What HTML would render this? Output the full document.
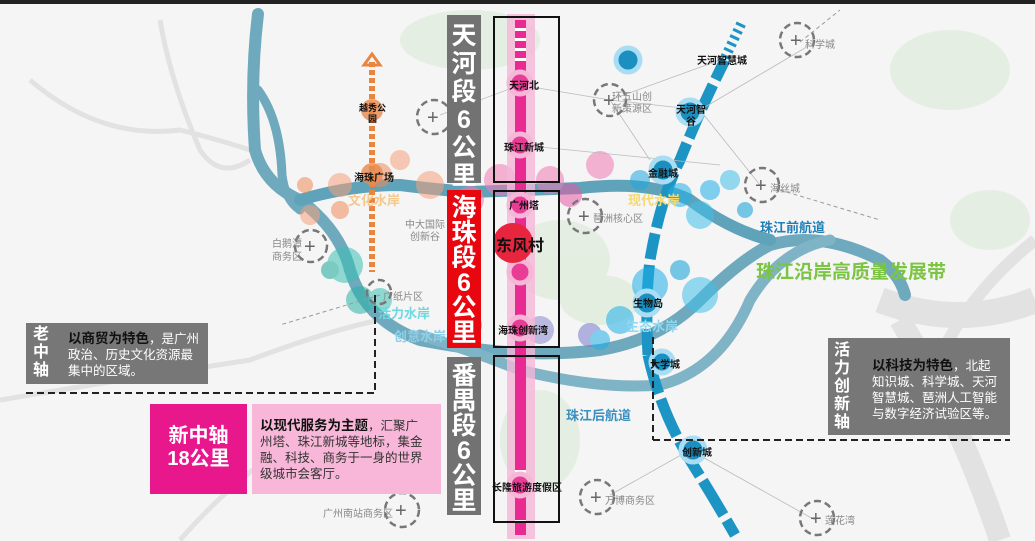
<!DOCTYPE html>
<html><head><meta charset="utf-8"><style>
html,body{margin:0;padding:0}
body{width:1035px;height:541px;overflow:hidden;background:#f4f4f4;font-family:"Liberation Sans","Noto Sans CJK SC",sans-serif;position:relative}
.t{position:absolute;font-family:"Liberation Sans","Noto Sans CJK SC",sans-serif;white-space:nowrap}
</style></head><body>
<svg width="1035" height="541" style="position:absolute;left:0;top:0" xmlns="http://www.w3.org/2000/svg">
<rect width="1035" height="541" fill="#f5f5f5"/>
<rect width="1035" height="4" fill="#222"/>
<g fill="#d8ead5" opacity="0.6">
<ellipse cx="470" cy="40" rx="70" ry="30"/><ellipse cx="560" cy="260" rx="50" ry="40"/>
<ellipse cx="950" cy="70" rx="60" ry="40"/><ellipse cx="990" cy="220" rx="40" ry="30"/>
<ellipse cx="540" cy="440" rx="40" ry="50"/><ellipse cx="600" cy="300" rx="40" ry="25"/>
</g>
<g fill="none" stroke="#e2e2e2" stroke-width="5">
<path d="M30 80 Q100 140 180 130 Q220 140 250 150"/>
<path d="M160 20 Q170 80 200 150 Q220 180 250 160"/>
<path d="M0 400 Q120 380 250 360 Q330 330 380 320"/>
<path d="M180 540 Q250 460 330 420"/>
<path d="M880 300 Q960 330 1035 300" stroke-width="26"/>
<path d="M900 320 Q960 420 1000 540" stroke-width="22"/>
<path d="M1035 240 Q960 300 930 380" stroke-width="12"/>
</g>
<g fill="none" stroke="#6fa9bd" stroke-linecap="round">
<path d="M258 14 Q250 80 255 150 Q265 185 300 200 Q340 230 350 270 Q365 320 420 340 Q520 360 600 350 Q660 340 700 300 Q740 260 770 245 Q820 230 880 260 Q900 275 905 295" stroke-width="12"/>
<path d="M258 90 Q280 120 282 175 Q285 200 300 210" stroke-width="9"/>
<path d="M300 200 Q350 185 400 185 Q440 190 470 192 Q520 190 580 188 Q650 180 690 200 Q730 230 770 240" stroke-width="12" stroke="#5fa3ba"/>
<path d="M420 335 Q470 350 520 370 Q600 390 660 385 Q720 370 750 300 Q780 250 830 240" stroke-width="11" stroke="#7fb3c6"/>
</g>
<path d="M648 355 Q645 300 650 260 Q660 200 680 160 Q700 110 725 60" fill="none" stroke="#1c94c4" stroke-width="11" stroke-dasharray="26,6"/>
<path d="M725 58 L742 22" fill="none" stroke="#1c94c4" stroke-width="10" stroke-dasharray="3,4"/>
<path d="M648 355 Q660 410 690 460 Q715 500 735 535" fill="none" stroke="#1c94c4" stroke-width="11" stroke-dasharray="40,6"/>
<g opacity="0.55">
<circle cx="380" cy="175" r="12" fill="#f08a5a"/><circle cx="400" cy="160" r="10" fill="#f5a07a"/>
<circle cx="340" cy="185" r="12" fill="#f5a07a"/><circle cx="305" cy="185" r="8" fill="#f08a5a"/>
<circle cx="310" cy="215" r="10" fill="#f5a07a"/><circle cx="430" cy="185" r="14" fill="#f5a07a"/>
<circle cx="340" cy="210" r="9" fill="#f08a5a"/>
<circle cx="345" cy="265" r="18" fill="#3cc1b4"/><circle cx="360" cy="300" r="14" fill="#2bb3a6"/>
<circle cx="380" cy="300" r="12" fill="#3cc1b4"/><circle cx="330" cy="270" r="9" fill="#1aa99c"/>
<circle cx="500" cy="180" r="16" fill="#f07ab5"/><circle cx="470" cy="200" r="14" fill="#f07ab5"/>
<circle cx="600" cy="165" r="14" fill="#f07ab5"/><circle cx="570" cy="195" r="12" fill="#e65aa5"/>
<circle cx="550" cy="180" r="14" fill="#f07ab5"/><circle cx="540" cy="330" r="14" fill="#8a8ad0"/>
<circle cx="590" cy="335" r="12" fill="#7a7ad0"/><circle cx="470" cy="325" r="12" fill="#8a8ad0"/>
<circle cx="640" cy="180" r="10" fill="#20a8e0"/><circle cx="680" cy="195" r="12" fill="#20b0e8"/>
<circle cx="710" cy="190" r="10" fill="#20b0e8"/><circle cx="700" cy="215" r="14" fill="#40bfea"/>
<circle cx="650" cy="285" r="18" fill="#20b0e8"/><circle cx="700" cy="295" r="18" fill="#40bfea"/>
<circle cx="680" cy="270" r="10" fill="#0ea0d8"/><circle cx="620" cy="320" r="14" fill="#20b0e8"/>
<circle cx="745" cy="210" r="8" fill="#0ea0d8"/><circle cx="730" cy="180" r="10" fill="#40bfea"/>
<circle cx="600" cy="340" r="10" fill="#20b0e8"/>
</g>
<line x1="372" y1="62" x2="372" y2="272" stroke="#e9853e" stroke-width="6" stroke-dasharray="5,3"/>
<polygon points="364,65 372,54 380,65" fill="none" stroke="#e9853e" stroke-width="3"/>
<circle cx="372" cy="110" r="11" fill="#e98a50" opacity="0.8"/>
<circle cx="372" cy="174" r="11" fill="#e98a50" opacity="0.8"/>
<g stroke="#bbb" stroke-width="0.8" fill="none">
<line x1="520" y1="85" x2="610" y2="100"/><line x1="520" y1="145" x2="720" y2="165"/>
<line x1="610" y1="100" x2="700" y2="110"/><line x1="610" y1="100" x2="720" y2="60"/>
<line x1="700" y1="110" x2="810" y2="45"/><line x1="700" y1="110" x2="760" y2="185"/>
<line x1="610" y1="100" x2="650" y2="160"/><line x1="440" y1="115" x2="520" y2="85"/>
<line x1="690" y1="450" x2="610" y2="495"/><line x1="690" y1="450" x2="815" y2="520"/>
</g>
<g stroke="#999" stroke-width="1" stroke-dasharray="4,3" fill="none">
<line x1="800" y1="42" x2="840" y2="10"/><line x1="780" y1="190" x2="880" y2="220"/>
<line x1="380" y1="295" x2="280" y2="325"/>
</g>
<g fill="none" stroke="#777" stroke-width="2.5" stroke-dasharray="7,4">
<circle cx="434" cy="117" r="17"/><circle cx="311" cy="246" r="16"/><circle cx="610" cy="100" r="16"/>
<circle cx="797" cy="40" r="17"/><circle cx="585" cy="216" r="17"/><circle cx="762" cy="185" r="17"/>
<circle cx="402" cy="510" r="17"/><circle cx="597" cy="497" r="17"/><circle cx="817" cy="518" r="17"/>
<circle cx="379" cy="292" r="12"/>
</g>
<g fill="#666" font-size="20" font-family="Liberation Sans">
<text x="427" y="124">+</text><text x="304" y="253">+</text><text x="603" y="107">+</text>
<text x="790" y="47">+</text><text x="578" y="223">+</text><text x="755" y="192">+</text>
<text x="395" y="517">+</text><text x="590" y="504">+</text><text x="810" y="525">+</text>
</g>
<rect x="507" y="14" width="28" height="525" fill="#f6b6d8" opacity="0.8"/>
<rect x="515" y="20" width="11" height="515" fill="#ea2a93"/>
<g fill="#fff"><rect x="515" y="28" width="11" height="3"/><rect x="515" y="38" width="11" height="3"/><rect x="515" y="48" width="11" height="3"/><rect x="515" y="58" width="11" height="3"/>
<rect x="515" y="470" width="11" height="3"/><rect x="515" y="480" width="11" height="3"/><rect x="515" y="520" width="11" height="3"/></g>
<g fill="#e83c95" stroke="#f6b6d8" stroke-width="5">
<circle cx="520" cy="83" r="11"/><circle cx="520" cy="145" r="11"/><circle cx="520" cy="205" r="11"/>
<circle cx="520" cy="272" r="11"/><circle cx="520" cy="328" r="11"/><circle cx="520" cy="485" r="11"/>
</g>
<circle cx="513" cy="243" r="20" fill="#e8253f"/>
<circle cx="628" cy="60" r="12" fill="#1a8fc0" stroke="#a9ddf3" stroke-width="5"/>
<circle cx="690" cy="112" r="12" fill="#1a8fc0" stroke="#a9ddf3" stroke-width="5"/>
<circle cx="663" cy="170" r="12" fill="#1a8fc0" stroke="#a9ddf3" stroke-width="5"/>
<circle cx="647" cy="303" r="12" fill="#1a8fc0" stroke="#a9ddf3" stroke-width="5"/>
<circle cx="662" cy="362" r="11" fill="#1a8fc0" stroke="#a9ddf3" stroke-width="5"/>
<circle cx="693" cy="450" r="12" fill="#1a8fc0" stroke="#a9ddf3" stroke-width="5"/>
<g fill="none" stroke="#111" stroke-width="2">
<rect x="494" y="17" width="65" height="165"/><rect x="494" y="191" width="65" height="156"/><rect x="494" y="356" width="65" height="166"/>
</g>
<rect x="447" y="15" width="34" height="168" fill="#727272"/>
<rect x="447" y="190" width="34" height="158" fill="#e8060f"/>
<rect x="447" y="357" width="34" height="158" fill="#727272"/>
<g fill="none" stroke="#222" stroke-width="2" stroke-dasharray="7,4">
<polyline points="26,393 375,393 375,295"/>
<polyline points="653,440 1010,440"/><line x1="653" y1="337" x2="653" y2="440"/>
</g>
<rect x="26" y="323" width="182" height="61" fill="#777"/>
<rect x="150" y="404" width="97" height="90" fill="#e8178c"/>
<rect x="252" y="404" width="189" height="90" fill="#f8b7d8"/>
<rect x="828" y="338" width="182" height="97" fill="#777"/>
</svg>

<div class="t" style="left:451px;top:22px;width:26px;color:#fff;font-weight:bold;font-size:25px;line-height:28px;text-align:center;white-space:normal">天河段6公里</div>
<div class="t" style="left:451px;top:196px;width:26px;color:#fff;font-weight:bold;font-size:25px;line-height:25px;text-align:center;white-space:normal">海珠段6公里</div>
<div class="t" style="left:451px;top:364px;width:26px;color:#fff;font-weight:bold;font-size:25px;line-height:25px;text-align:center;white-space:normal">番禺段6公里</div>

<div class="t" style="left:496px;top:232px;font-size:16px;font-weight:bold;color:#111">东风村</div>
<div class="t" style="left:509px;top:77px;font-size:10px;font-weight:bold;color:#111">天河北</div>
<div class="t" style="left:504px;top:139px;font-size:10px;font-weight:bold;color:#111">珠江新城</div>
<div class="t" style="left:509px;top:197px;font-size:10px;font-weight:bold;color:#111">广州塔</div>
<div class="t" style="left:498px;top:322px;font-size:10px;font-weight:bold;color:#111">海珠创新湾</div>
<div class="t" style="left:492px;top:479px;font-size:10px;font-weight:bold;color:#111">长隆旅游度假区</div>

<div class="t" style="left:359px;top:103px;font-size:9px;font-weight:bold;color:#111;line-height:11px;text-align:center">越秀公<br>园</div>
<div class="t" style="left:354px;top:169px;font-size:10px;font-weight:bold;color:#111">海珠广场</div>
<div class="t" style="left:348px;top:190px;font-size:13px;font-weight:bold;color:#f4c88a">文化水岸</div>
<div class="t" style="left:405px;top:220px;font-size:10px;color:#888;line-height:12px;text-align:center">中大国际<br>创新谷</div>
<div class="t" style="left:272px;top:238px;font-size:10px;color:#888;line-height:13px">白鹅潭<br>商务区</div>
<div class="t" style="left:383px;top:288px;font-size:10px;color:#888">广纸片区</div>
<div class="t" style="left:378px;top:303px;font-size:13px;font-weight:bold;color:#6fd8e0">活力水岸</div>
<div class="t" style="left:394px;top:326px;font-size:13px;font-weight:bold;color:#8ed0e8">创意水岸</div>

<div class="t" style="left:697px;top:52px;font-size:10px;font-weight:bold;color:#111">天河智慧城</div>
<div class="t" style="left:676px;top:105px;font-size:10px;font-weight:bold;color:#111;line-height:12px;text-align:center">天河智<br>谷</div>
<div class="t" style="left:648px;top:165px;font-size:10px;font-weight:bold;color:#111">金融城</div>
<div class="t" style="left:612px;top:92px;font-size:10px;color:#888;line-height:12px">环五山创<br>新策源区</div>
<div class="t" style="left:805px;top:36px;font-size:10px;color:#888">科学城</div>
<div class="t" style="left:770px;top:180px;font-size:10px;color:#888">海丝城</div>
<div class="t" style="left:593px;top:210px;font-size:10px;color:#888">琶洲核心区</div>
<div class="t" style="left:628px;top:190px;font-size:13px;font-weight:bold;color:#f4d870">现代水岸</div>
<div class="t" style="left:760px;top:217px;font-size:13px;font-weight:bold;color:#1f7fb8">珠江前航道</div>
<div class="t" style="left:756px;top:257px;font-size:19px;font-weight:bold;color:#7cc443">珠江沿岸高质量发展带</div>
<div class="t" style="left:633px;top:295px;font-size:10px;font-weight:bold;color:#111">生物岛</div>
<div class="t" style="left:626px;top:316px;font-size:13px;font-weight:bold;color:#8ed8f0">生态水岸</div>
<div class="t" style="left:650px;top:356px;font-size:10px;font-weight:bold;color:#111">大学城</div>
<div class="t" style="left:566px;top:405px;font-size:13px;font-weight:bold;color:#3a8fc0">珠江后航道</div>
<div class="t" style="left:682px;top:444px;font-size:10px;font-weight:bold;color:#111">创新城</div>
<div class="t" style="left:605px;top:492px;font-size:10px;color:#888">万博商务区</div>
<div class="t" style="left:825px;top:512px;font-size:10px;color:#888">莲花湾</div>
<div class="t" style="left:323px;top:505px;font-size:10px;color:#888">广州南站商务区</div>

<div class="t" style="left:33px;top:326px;width:18px;font-size:16px;font-weight:bold;color:#fff;line-height:18px;white-space:normal">老中轴</div>
<div class="t" style="left:68px;top:331px;width:132px;font-size:12.5px;color:#fff;line-height:16px;white-space:normal"><b style="color:#111;font-size:13.5px">以商贸为特色</b>，是广州政治、历史文化资源最集中的区域。</div>
<div class="t" style="left:150px;top:425px;width:97px;font-size:20px;font-weight:bold;color:#fff;line-height:23px;text-align:center">新中轴<br>18公里</div>
<div class="t" style="left:260px;top:418px;width:170px;font-size:12.5px;color:#333;line-height:16px;white-space:normal"><b style="color:#111;font-size:13.5px">以现代服务为主题</b>，汇聚广州塔、珠江新城等地标，集金融、科技、商务于一身的世界级城市会客厅。</div>
<div class="t" style="left:834px;top:342px;width:18px;font-size:16px;font-weight:bold;color:#fff;line-height:18px;white-space:normal">活力创新轴</div>
<div class="t" style="left:872px;top:358px;width:130px;font-size:12.5px;color:#fff;line-height:16px;white-space:normal"><b style="color:#111;font-size:13.5px">以科技为特色</b>，北起知识城、科学城、天河智慧城、琶洲人工智能与数字经济试验区等。</div>
</body></html>
